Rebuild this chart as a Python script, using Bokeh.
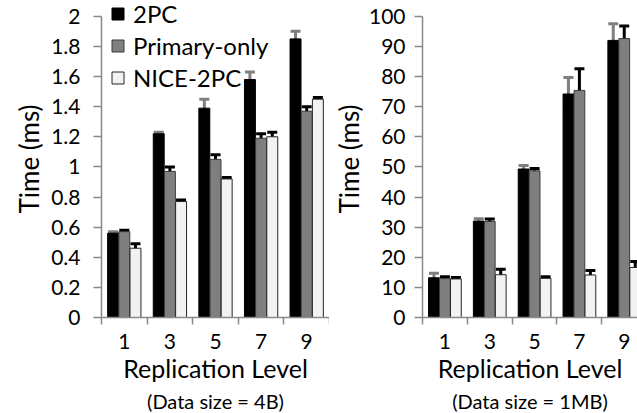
from bokeh.plotting import figure
from bokeh.models import (ColumnDataSource, Whisker, TeeHead, FixedTicker,
                          NumeralTickFormatter, Legend, LegendItem, Title, Range1d)
from bokeh.layouts import row
from bokeh.embed import file_html
from bokeh.resources import INLINE

# ---------------- data ----------------
categories = ["1", "3", "5", "7", "9"]
series_names = ["2PC", "Primary-only", "NICE-2PC"]

small_2pc = [0.56, 1.22, 1.39, 1.58, 1.85]
small_2pc_err = [0.01, 0.01, 0.06, 0.05, 0.05]
small_primary = [0.57, 0.97, 1.05, 1.19, 1.37]
small_primary_err = [0.01, 0.03, 0.03, 0.03, 0.03]
small_nice = [0.46, 0.77, 0.92, 1.20, 1.45]
small_nice_err = [0.03, 0.01, 0.01, 0.03, 0.01]

large_2pc = [13.2, 32.0, 49.3, 74.2, 92.0]
large_2pc_err = [1.5, 0.8, 1.2, 5.5, 5.5]
large_primary = [12.9, 31.9, 48.7, 75.4, 92.6]
large_primary_err = [0.6, 0.8, 0.8, 7.2, 4.2]
large_nice = [12.8, 14.2, 13.0, 14.1, 16.6]
large_nice_err = [0.5, 1.8, 0.5, 1.5, 2.0]

small_ticks = [0, 0.2, 0.4, 0.6, 0.8, 1, 1.2, 1.4, 1.6, 1.8, 2]
large_ticks = [0, 10, 20, 30, 40, 50, 60, 70, 80, 90, 100]

# ---------------- style ----------------
FONT = "Lato"
AXIS_COLOR = "#898989"
fills = ["#000000", "#7f7f7f", "#f2f2f2"]
outlines = ["#000000", "#3a3a3a", "#262626"]
err_colors = ["#7f7f7f", "#000000", "#000000"]
offsets = [-0.245, 0.0, 0.245]
BAR_W = 0.24
PLOT_H = 305   # pixels between axis min and axis max
HEAD_PX = 16   # extra frame room above the axis max (for the legend)
TOP = 16
BOTTOM = 92


def make_panel(series, errors, ticks, yfmt, xmax, width, border_left,
               border_right, label_standoff, title_standoff, subtitle, with_legend):
    n = len(categories)
    span = ticks[-1] - ticks[0]
    y_end = ticks[-1] + span * HEAD_PX / PLOT_H
    p = figure(width=width, height=413, output_backend="svg", toolbar_location=None,
               x_range=Range1d(0, xmax), y_range=Range1d(ticks[0], y_end),
               min_border_left=border_left, min_border_right=border_right,
               min_border_top=TOP - HEAD_PX, min_border_bottom=BOTTOM)
    p.outline_line_color = None
    p.grid.visible = False
    p.background_fill_color = "white"
    p.border_fill_color = "white"

    renderers = []
    for k, (vals, errs) in enumerate(zip(series, errors)):
        xs = [i + 0.5 + offsets[k] for i in range(n)]
        src = ColumnDataSource(dict(
            x=xs, top=vals,
            upper=[v + e for v, e in zip(vals, errs)],
            lower=[v - e for v, e in zip(vals, errs)],
        ))
        r = p.vbar(x="x", top="top", bottom=0, width=BAR_W, source=src,
                   fill_color=fills[k], line_color=outlines[k], line_width=1)
        renderers.append((r, src))
    for k, (r, src) in enumerate(renderers):
        w = Whisker(base="x", upper="upper", lower="lower", source=src,
                    line_color=err_colors[k], line_width=3,
                    upper_head=TeeHead(size=10, line_width=3, line_color=err_colors[k]),
                    lower_head=TeeHead(size=10, line_width=3, line_color=err_colors[k]))
        p.add_layout(w)

    # axes
    xa = p.xaxis[0]
    xa.ticker = FixedTicker(ticks=[i + 0.5 for i in range(n)],
                            minor_ticks=list(range(n + 1)))
    xa.major_label_overrides = {i + 0.5: c for i, c in enumerate(categories)}
    xa.major_tick_out = 0
    xa.major_tick_in = 0
    xa.minor_tick_out = 7
    xa.minor_tick_in = 0
    xa.axis_label = "Replication Level"
    xa.axis_label_standoff = 1
    xa.major_label_standoff = 9
    xa.axis_label_text_font_size = "25px"

    ya = p.yaxis[0]
    ya.ticker = FixedTicker(ticks=ticks)
    ya.bounds = (ticks[0], ticks[-1])
    ya.formatter = NumeralTickFormatter(format=yfmt)
    ya.major_tick_out = 8
    ya.major_tick_in = 0
    ya.minor_tick_out = 0
    ya.minor_tick_in = 0
    ya.axis_label = "Time (ms)"
    ya.axis_label_standoff = title_standoff
    ya.major_label_standoff = label_standoff
    ya.axis_label_text_font_size = "26px"

    for ax in (xa, ya):
        ax.axis_line_color = AXIS_COLOR
        ax.axis_line_width = 1.5
        ax.major_tick_line_color = AXIS_COLOR
        ax.minor_tick_line_color = AXIS_COLOR
        ax.major_tick_line_width = 1.5
        ax.minor_tick_line_width = 1.5
        ax.major_label_text_font = FONT
        ax.major_label_text_font_size = "21px"
        ax.major_label_text_color = "#000000"
        ax.axis_label_text_font = FONT
        ax.axis_label_text_font_style = "normal"
        ax.axis_label_text_color = "#000000"

    t = Title(text=subtitle, align="center", text_font=FONT, text_font_size="20px",
              text_font_style="normal", text_color="#000000", standoff=2)
    p.add_layout(t, "below")

    if with_legend:
        items = [LegendItem(label=name, renderers=[r]) for name, (r, _) in zip(series_names, renderers)]
        leg = Legend(items=items, location=(9, 225), padding=0, margin=0,
                     glyph_width=15, glyph_height=15, label_height=28, spacing=3,
                     label_standoff=8, label_text_font=FONT, label_text_font_size="24px",
                     label_text_color="#000000",
                     border_line_alpha=0, background_fill_alpha=0)
        p.add_layout(leg)
    return p


left = make_panel([small_2pc, small_primary, small_nice],
                  [small_2pc_err, small_primary_err, small_nice_err],
                  small_ticks, "0.[0]", 5, 329, 101, 0, 13, 3,
                  "(Data size = 4B)", True)
right = make_panel([large_2pc, large_primary, large_nice],
                   [large_2pc_err, large_primary_err, large_nice_err],
                   large_ticks, "0", 223 / 46.5, 308, 85, 0, 9, 1,
                   "(Data size = 1MB)", False)

layout = row(left, right)
open("out.html", "w").write(file_html(layout, INLINE))
